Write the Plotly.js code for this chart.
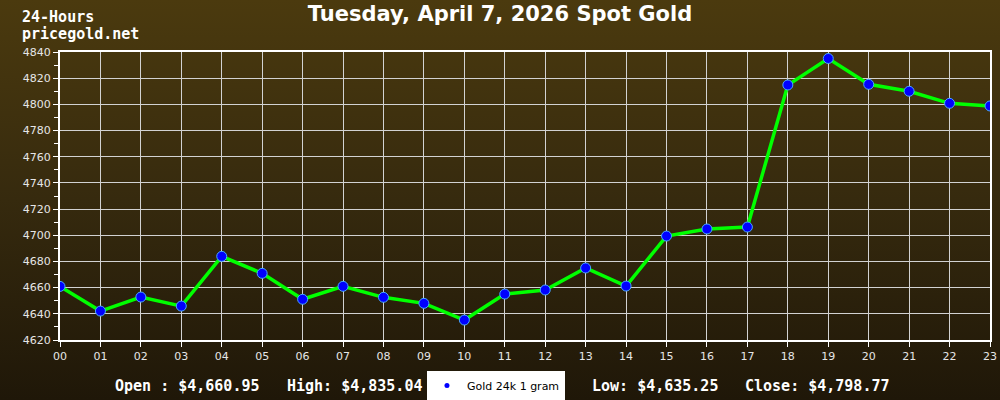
<!DOCTYPE html>
<html>
<head>
<meta charset="utf-8">
<script src="https://cdn.plot.ly/plotly-3.0.1.min.js"></script>
<style>
  html, body { margin: 0; padding: 0; }
  body { width: 1000px; height: 400px; background: linear-gradient(to bottom, #4b3a0e 0%, #362a0e 50%, #1f1708 100%); overflow: hidden; }
  #chart { width: 1000px; height: 400px; }
</style>
</head>
<body>
<div id="chart"></div>
<script>
var hours = ["00","01","02","03","04","05","06","07","08","09","10","11","12","13","14","15","16","17","18","19","20","21","22","23"];
var prices = [4660.95, 4642.1, 4652.8, 4645.9, 4683.9, 4670.9, 4651.1, 4661.0, 4652.6, 4648.0, 4635.25, 4655.1, 4658.2, 4675.0, 4661.2, 4699.4, 4704.8, 4706.3, 4814.8, 4835.04, 4815.3, 4810.0, 4800.8, 4798.77];
var yTicks = [4620, 4640, 4660, 4680, 4700, 4720, 4740, 4760, 4780, 4800, 4820, 4840];
var seriesName = "Gold 24k 1 gram";
var titleText = "Tuesday, April 7, 2026 Spot Gold";
var topLabels = ["24-Hours", "pricegold.net"];
var summary = { open: "Open : $4,660.95", high: "High: $4,835.04", low: "Low: $4,635.25", close: "Close: $4,798.77" };

var xIdx = hours.map(function(h, i){ return i; });

var traces = [
  {
    x: xIdx, y: prices, mode: "lines+markers", showlegend: false,
    line: { color: "#00ff00", width: 3.5 },
    marker: { color: "#0000ff", size: 10, line: { color: "#48a8ff", width: 1 } },
    hoverinfo: "skip"
  },
  {
    x: [null], y: [null], mode: "markers", name: seriesName,
    marker: { color: "#0000ff", size: 5 }
  }
];

var mono = "DejaVu Sans Mono, monospace";
function ann(text, x, y, size) {
  return { text: "<b>" + text + "</b>", xref: "paper", yref: "paper", x: x, y: y, xanchor: "left", yanchor: "middle", showarrow: false, font: { family: mono, size: size, color: "#ffffff" } };
}
var layout = {
  width: 1000, height: 400,
  paper_bgcolor: "rgba(0,0,0,0)",
  plot_bgcolor: "rgba(0,0,0,0)",
  margin: { l: 60, r: 10, t: 52, b: 60, autoexpand: false },
  title: { text: "<b>" + titleText + "</b>", x: 0.5, xref: "container", xanchor: "center", y: 0.965, yref: "container", yanchor: "middle", font: { family: "DejaVu Sans", size: 21, color: "#ffffff" } },
  xaxis: {
    range: [0, 23], tickvals: xIdx, ticktext: hours,
    showgrid: true, gridcolor: "#d2d2d2", gridwidth: 1,
    showline: true, linecolor: "#ffffff", linewidth: 2, mirror: true,
    ticks: "outside", ticklen: 5, tickcolor: "#ffffff",
    tickfont: { family: "DejaVu Sans", size: 11, color: "#e6e6e6" },
    zeroline: false, fixedrange: true
  },
  yaxis: {
    range: [4620, 4840], tickvals: yTicks,
    showgrid: true, gridcolor: "#d2d2d2", gridwidth: 1,
    showline: true, linecolor: "#ffffff", linewidth: 2, mirror: true,
    ticks: "outside", ticklen: 5, tickcolor: "#ffffff",
    minor: { dtick: 10, ticks: "outside", ticklen: 4, tickcolor: "#ffffff", showgrid: false },
    tickfont: { family: "DejaVu Sans", size: 11, color: "#e6e6e6" },
    zeroline: false, fixedrange: true
  },
  showlegend: true,
  legend: {
    x: 0.3946, xanchor: "left", y: -0.1076, yanchor: "top",
    bgcolor: "#ffffff", borderwidth: 0,
    font: { family: "DejaVu Sans", size: 11, color: "#000000" },
    orientation: "h", itemwidth: 30
  },
  annotations: [
    ann(topLabels[0], -0.043, 1.12, 15),
    ann(topLabels[1], -0.043, 1.063, 15),
    ann(summary.open, 0.0570, -0.16, 15),
    ann(summary.high, 0.2419, -0.16, 15),
    ann(summary.low, 0.5699, -0.16, 15),
    ann(summary.close, 0.7344, -0.16, 15)
  ]
};

Plotly.newPlot("chart", traces, layout, { displayModeBar: false, staticPlot: true });
</script>
</body>
</html>
